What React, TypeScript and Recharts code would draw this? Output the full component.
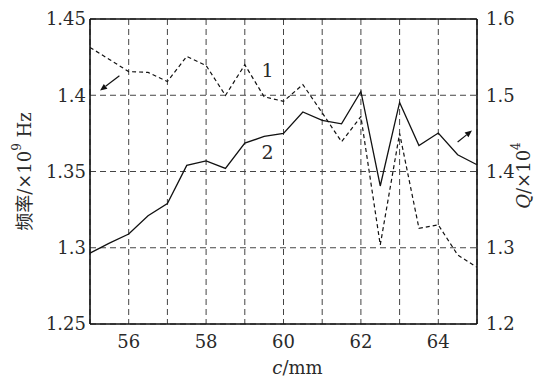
import React from 'react';
import { LineChart, Line, XAxis, YAxis, CartesianGrid, ReferenceLine, ReferenceDot, Label } from 'recharts';

const cValues = [55, 55.5, 56, 56.5, 57, 57.5, 58, 58.5, 59, 59.5, 60, 60.5, 61, 61.5, 62, 62.5, 63, 63.5, 64, 64.5, 65];
const freqValues = [1.2965, 1.303, 1.309, 1.321, 1.329, 1.354, 1.357, 1.352, 1.3686, 1.373, 1.375, 1.389, 1.3835, 1.3813, 1.4025, 1.3405, 1.3953, 1.367, 1.3752, 1.361, 1.3544];
const qValues = [1.5627, 1.547, 1.531, 1.53, 1.518, 1.551, 1.539, 1.4997, 1.54, 1.498, 1.492, 1.514, 1.477, 1.439, 1.472, 1.3037, 1.45, 1.3256, 1.33, 1.2906, 1.2744];

const xTicks = [55, 56, 57, 58, 59, 60, 61, 62, 63, 64, 65];
const leftTicks = [1.25, 1.3, 1.35, 1.4, 1.45];
const rightTicks = [1.2, 1.3, 1.4, 1.5, 1.6];

const data = cValues.map((c, i) => ({ c, freq: freqValues[i], q: qValues[i] }));

const FONT = '"DejaVu Serif", "Noto Sans CJK SC", serif';
const TXT = '#2a2a2a';
const INK = '#111';

const Arrow = (props: any) => {
  const { x1, y1, x2, y2 } = props;
  if (x1 == null) return null;
  const ang = Math.atan2(y2 - y1, x2 - x1);
  const L = 7;
  const W = 3;
  const bx = x2 - L * Math.cos(ang);
  const by = y2 - L * Math.sin(ang);
  const px = -Math.sin(ang) * W;
  const py = Math.cos(ang) * W;
  return (
    <g>
      <line x1={x1} y1={y1} x2={bx} y2={by} stroke={INK} strokeWidth={1.2} />
      <polygon points={`${x2},${y2} ${bx + px},${by + py} ${bx - px},${by - py}`} fill={INK} />
    </g>
  );
};

const TextMark = (txt: string) => (props: any) => (
  <text x={props.cx} y={props.cy} textAnchor="middle" dominantBaseline="central" fontFamily={FONT} fontSize={19} fill={TXT}>
    {txt}
  </text>
);

const LeftLabel = (props: any) => {
  const vb = props.viewBox || {};
  const cx = 24;
  const cy = vb.y + vb.height / 2;
  return (
    <text transform={`rotate(-90 ${cx} ${cy})`} x={cx} y={cy} textAnchor="middle" dominantBaseline="central" fontFamily={FONT} fontSize={18} fill={TXT}>
      频率/×10<tspan dy={-7} fontSize={12}>9</tspan><tspan dy={7}> Hz</tspan>
    </text>
  );
};

const RightLabel = (props: any) => {
  const vb = props.viewBox || {};
  const cx = 523;
  const cy = vb.y + vb.height / 2 + 4;
  return (
    <text transform={`rotate(-90 ${cx} ${cy})`} x={cx} y={cy} textAnchor="middle" dominantBaseline="central" fontFamily={FONT} fontSize={18} fill={TXT}>
      <tspan fontStyle="italic">Q</tspan>/×10<tspan dy={-7} fontSize={12}>4</tspan>
    </text>
  );
};

const XLabel = (props: any) => {
  const vb = props.viewBox || {};
  const cx = vb.x + vb.width / 2 + 14;
  return (
    <text x={cx} y={374} textAnchor="middle" fontFamily={FONT} fontSize={18} fill={TXT}>
      <tspan fontStyle="italic">c</tspan>/mm
    </text>
  );
};

export default function App() {
  return (
    <div style={{ position: 'absolute', left: 0, top: 0, width: 553, height: 381, background: '#fff' }}>
      <LineChart width={553} height={381} data={data} margin={{ top: 19, right: 0, bottom: 0, left: 0 }}>
        <CartesianGrid yAxisId="left" stroke="#444" strokeDasharray="6 4" strokeWidth={1} />
        <XAxis
          dataKey="c"
          type="number"
          domain={[55, 65]}
          ticks={xTicks}
          interval={0}
          tickFormatter={(v: number) => (v % 2 === 0 ? String(v) : '')}
          height={57}
          tickLine={false}
          tickSize={0}
          tickMargin={11}
          axisLine={{ stroke: INK, strokeWidth: 1.6 }}
          tick={{ fontFamily: FONT, fontSize: 18, fill: TXT }}
        >
          <Label content={XLabel} />
        </XAxis>
        <YAxis
          yAxisId="left"
          domain={[1.25, 1.45]}
          ticks={leftTicks}
          interval={0}
          width={90}
          tickLine={false}
          tickSize={0}
          tickMargin={4}
          axisLine={{ stroke: INK, strokeWidth: 1.6 }}
          tick={{ fontFamily: FONT, fontSize: 18, fill: TXT }}
        >
          <Label content={LeftLabel} />
        </YAxis>
        <YAxis
          yAxisId="right"
          orientation="right"
          domain={[1.2, 1.6]}
          ticks={rightTicks}
          interval={0}
          width={76}
          tickLine={false}
          tickSize={0}
          tickMargin={9}
          axisLine={{ stroke: INK, strokeWidth: 1.6 }}
          tick={{ fontFamily: FONT, fontSize: 18, fill: TXT, textAnchor: 'start' }}
        >
          <Label content={RightLabel} />
        </YAxis>
        <ReferenceLine yAxisId="left" y={1.45} stroke={INK} strokeWidth={1.6} />
        <Line yAxisId="right" type="linear" dataKey="q" stroke={INK} strokeWidth={1.2} strokeDasharray="4 3" dot={false} isAnimationActive={false} />
        <Line yAxisId="left" type="linear" dataKey="freq" stroke={INK} strokeWidth={1.3} dot={false} isAnimationActive={false} />
        <ReferenceDot yAxisId="left" x={59.59} y={1.4167} r={0} shape={TextMark('1')} />
        <ReferenceDot yAxisId="left" x={59.59} y={1.363} r={0} shape={TextMark('2')} />
        <ReferenceLine yAxisId="left" segment={[{ x: 55.76, y: 1.4128 }, { x: 55.26, y: 1.4031 }]} shape={Arrow} />
        <ReferenceLine yAxisId="left" segment={[{ x: 64.5, y: 1.3693 }, { x: 64.87, y: 1.3769 }]} shape={Arrow} />
      </LineChart>
    </div>
  );
}
